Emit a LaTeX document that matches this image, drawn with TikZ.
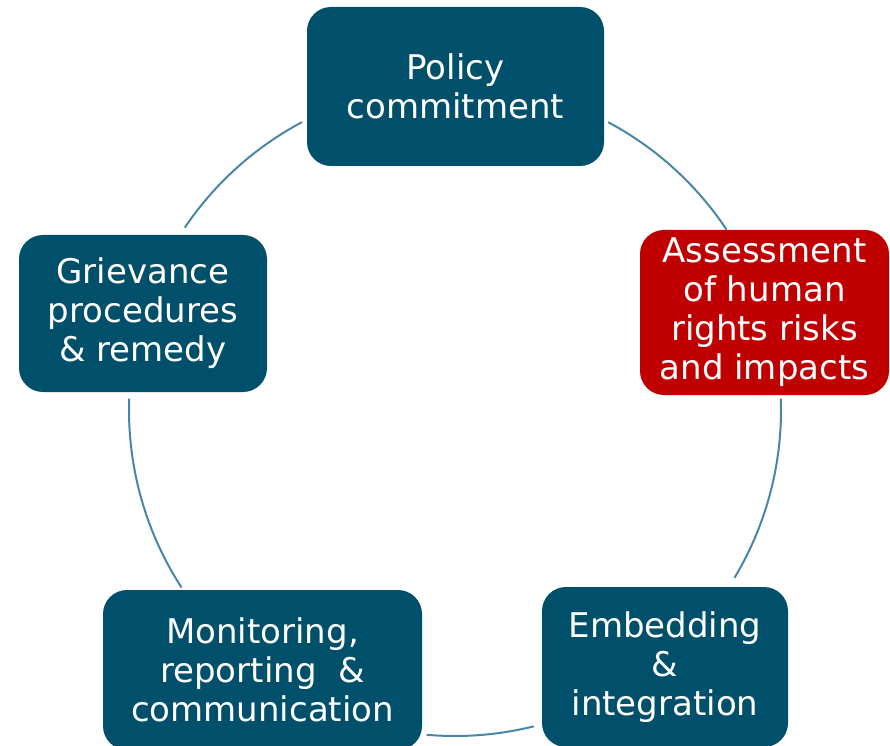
\documentclass[tikz,border=0pt]{standalone}
\usepackage{fontspec}
\setmainfont{DejaVu Sans}
\usetikzlibrary{calc}
\definecolor{boxteal}{RGB}{0,80,107}
\definecolor{boxred}{RGB}{192,0,0}
\definecolor{linkblue}{RGB}{74,134,166}
\tikzset{
  stage/.style={draw=none, fill=boxteal, rounded corners=24pt, text=white,
    align=center, inner sep=0pt,
    font=\fontsize{34}{39}\selectfont},
  hot/.style={stage, fill=boxred},
  link/.style={draw=linkblue, line width=2pt}
}
\begin{document}
\begin{tikzpicture}[x=1pt,y=1pt]
\useasboundingbox (0,0) rectangle (890,745);
\node[stage, minimum width=297pt, minimum height=159pt] (policy) at (455.5,658.5) {Policy\\commitment};
\node[hot, minimum width=249pt, minimum height=165pt] (assess) at (764.5,432.5) {Assessment\\of human\\rights risks\\and impacts};
\node[stage, minimum width=246pt, minimum height=160pt] (embed) at (665,78) {Embedding\\\&\\integration};
\node[stage, minimum width=319pt, minimum height=160pt] (monitor) at (262.5,75) {Monitoring,\\reporting~~\&\\communication};
\node[stage, minimum width=248pt, minimum height=157pt] (griev) at (143,431.5) {Grievance\\procedures\\\& remedy};
\coordinate (O) at (455,335);
\coordinate (a1) at ($(O)+(118:326)$);
\coordinate (a2) at ($(O)+(62:326)$);
\coordinate (a3) at ($(O)+(2:326)$);
\coordinate (a4) at ($(O)+(-76:326)$);
\coordinate (a5) at ($(O)+(178:326)$);
\draw[link] (a1) arc[start angle=118, end angle=146, radius=326];
\draw[link] (a2) arc[start angle=62, end angle=33.6, radius=326];
\draw[link] (a3) arc[start angle=2, end angle=-31, radius=326];
\draw[link] (a4) arc[start angle=-76, end angle=-95, radius=326];
\draw[link] (a5) arc[start angle=178, end angle=213, radius=326];
\end{tikzpicture}
\end{document}
